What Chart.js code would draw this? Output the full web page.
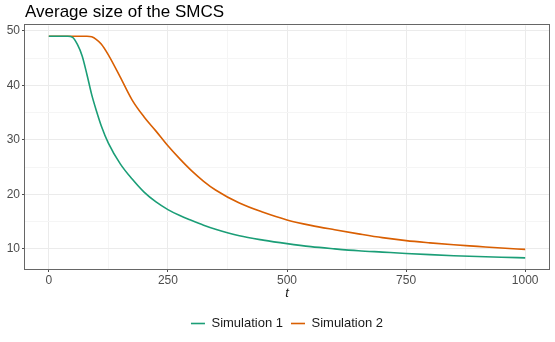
<!DOCTYPE html>
<html>
<head>
<meta charset="utf-8">
<script src="https://cdn.jsdelivr.net/npm/chart.js@4"></script>
<style>
  html,body{margin:0;padding:0;background:#fff;}
  #wrap{width:555px;height:342px;}
</style>
</head>
<body>
<div id="wrap"><canvas id="c" width="555" height="342"></canvas></div>
<script>
// -------- DATA ----------
const tValues = [0,25,40,50,60,70,80,90,100,110,125,150,175,200,225,250,275,300,325,350,400,450,500,550,600,650,700,750,800,850,900,950,1000];
const sim1 = [49,49,49,48.8,47.5,45.4,42.0,38.3,35.3,32.6,29.4,25.6,22.8,20.4,18.6,17.2,16.1,15.2,14.35,13.6,12.4,11.6,10.95,10.4,10.0,9.65,9.4,9.15,8.93,8.74,8.58,8.45,8.35];
const sim2 = [49,49,49,49,49,49,49,48.9,48.4,47.6,45.6,41.5,37.3,34.2,31.6,28.9,26.5,24.3,22.4,20.8,18.4,16.7,15.3,14.3,13.5,12.75,12.05,11.5,11.1,10.75,10.45,10.15,9.9];
const seriesNames = ['Simulation 1','Simulation 2'];
const seriesColors = ['#1B9E77','#D95F02'];

const xMajor = [0,250,500,750,1000];
const xMinor = [125,375,625,875];
const yMajor = [10,20,30,40,50];
const yMinor = [15,25,35,45];

const FONT = "'Liberation Sans', Arial, sans-serif";

// panel border like theme_bw
const panelBorder = {
  id:'panelBorder',
  afterLayout(chart){
    // title and legend line up with the panel, not the whole canvas
    const a = chart.chartArea;
    if (chart.titleBlock){ chart.titleBlock.left = a.left; chart.titleBlock.right = a.right; }
    if (chart.legend){ chart.legend.left = a.left; chart.legend.right = a.right; }
  },
  afterDraw(chart){
    const {ctx, chartArea:a} = chart;
    ctx.save();
    ctx.strokeStyle = '#666';
    ctx.lineWidth = 1;
    ctx.strokeRect(Math.round(a.left)-0.5, Math.round(a.top)-0.5, Math.round(a.right-a.left)+1, Math.round(a.bottom-a.top)+1);
    ctx.restore();
  }
};

const isMajor = (arr, v) => arr.includes(v);

function gridOpts(major){
  return {
    color: c => isMajor(major, c.tick && c.tick.value) ? '#EBEBEB' : '#F5F5F5',
    lineWidth: 1,
    tickLength: 3,
    tickColor: c => isMajor(major, c.tick && c.tick.value) ? '#4D4D4D' : 'rgba(0,0,0,0)',
    tickWidth: 1,
    drawTicks: true
  };
}

const toPoints = vals => tValues.map((t,i)=>({x:t, y:vals[i]}));

new Chart(document.getElementById('c').getContext('2d'), {
  type:'line',
  data:{
    datasets:[sim1, sim2].map((vals,i)=>({
      label: seriesNames[i],
      data: toPoints(vals),
      borderColor: seriesColors[i],
      backgroundColor: seriesColors[i],
      borderWidth: 1.6,
      pointRadius: 0,
      cubicInterpolationMode: 'monotone',
      fill:false
    }))
  },
  options:{
    responsive:false,
    animation:false,
    layout:{padding:{left:5,right:6,top:0,bottom:2}},
    plugins:{
      title:{
        display:true,
        text:'Average size of the SMCS',
        align:'start',
        color:'#000',
        font:{family:FONT,size:17,weight:'normal',lineHeight:1.2},
        padding:{top:2,bottom:3}
      },
      legend:{
        position:'bottom',
        labels:{
          usePointStyle:true,
          pointStyle:'line',
          pointStyleWidth:14,
          padding:8,
          color:'#1A1A1A',
          font:{family:FONT,size:13}
        }
      },
      tooltip:{enabled:false}
    },
    scales:{
      x:{
        type:'linear',
        min:-50, max:1050,
        afterBuildTicks: s => { s.ticks = xMajor.concat(xMinor).sort((a,b)=>a-b).map(v=>({value:v})); },
        afterFit: s => { s.height = 40; },
        grid: gridOpts(xMajor),
        border:{display:false},
        ticks:{
          autoSkip:false, maxRotation:0, padding:1,
          color:'#4D4D4D',
          font:{family:FONT,size:12},
          callback: v => isMajor(xMajor, v) ? String(v) : ''
        },
        title:{
          display:true, text:'t', color:'#1A1A1A',
          font:{family:FONT,size:13,style:'italic'},
          padding:{top:0,bottom:8}
        }
      },
      y:{
        type:'linear',
        min:6.3, max:51,
        afterBuildTicks: s => { s.ticks = yMajor.concat(yMinor).sort((a,b)=>a-b).map(v=>({value:v})); },
        afterFit: s => { s.width = 20; },
        grid: gridOpts(yMajor),
        border:{display:false},
        ticks:{
          autoSkip:false, padding:2,
          color:'#4D4D4D',
          font:{family:FONT,size:12},
          callback: v => isMajor(yMajor, v) ? String(v) : ''
        }
      }
    }
  },
  plugins:[panelBorder]
});
</script>
</body>
</html>
